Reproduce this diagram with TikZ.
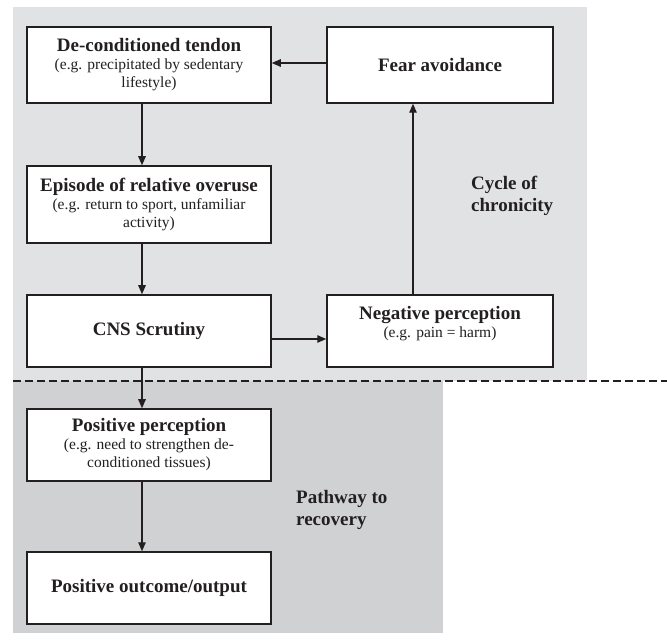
\documentclass[tikz,border=0pt]{standalone}
\usepackage{fontspec}
\setmainfont{Liberation Serif}
\usetikzlibrary{arrows.meta}
\definecolor{ink}{HTML}{231F20}
\definecolor{cyclebg}{HTML}{E1E2E4}
\definecolor{recoverybg}{HTML}{D0D1D3}
\newcommand\boxhead[1]{{\fontsize{19}{18}\selectfont\bfseries #1}}

\begin{document}
\begin{tikzpicture}[x=1pt,y=-1pt,
  box/.style={draw=ink, line width=1.5pt, fill=white, align=center,
    inner sep=0pt, text=ink, font=\fontsize{15.5}{18}\selectfont},
  arr/.style={draw=ink, line width=1.2pt, -{Triangle[length=9pt,width=7.5pt]}},
  zone/.style={font=\fontsize{19}{22}\selectfont\bfseries, text=ink,
    align=left, anchor=west, inner sep=0pt}]
  \useasboundingbox (0,0) rectangle (667,644);

  % shaded zones
  \fill[cyclebg] (13,7) rectangle (587,381);
  \fill[recoverybg] (13,381) rectangle (443,633);
  \draw[ink, line width=2pt, dash pattern=on 8pt off 4pt] (13,381) -- (667,381);

  % boxes of the cycle of chronicity
  \node[box, minimum width=244pt, minimum height=76pt] (dec) at (149,65)
    {\boxhead{De-conditioned tendon}\\(e.g. precipitated by sedentary\\lifestyle)};
  \node[box, minimum width=226pt, minimum height=76pt] (fear) at (440,65)
    {\boxhead{Fear avoidance}};
  \node[box, minimum width=244pt, minimum height=77pt] (epi) at (149,204.5)
    {\boxhead{Episode of relative overuse}\\(e.g. return to sport, unfamiliar\\activity)};
  \node[box, minimum width=244pt, minimum height=72pt] (cns) at (149,331)
    {\boxhead{CNS Scrutiny}};
  \node[box, minimum width=226pt, minimum height=72pt] (neg) at (440,331)
    {\boxhead{Negative perception}\\(e.g. pain = harm)\\\mbox{}};

  % boxes of the pathway to recovery
  \node[box, minimum width=244pt, minimum height=72pt] (posp) at (149,445)
    {\boxhead{Positive perception}\\(e.g. need to strengthen de-\\conditioned tissues)};
  \node[box, minimum width=244pt, minimum height=72pt] (poso) at (149,588)
    {\boxhead{Positive outcome/output}};

  % zone labels
  \node[zone] (cyc) at (471,196) {Cycle of\\chronicity};
  \node[zone] (rec) at (296,510) {Pathway to\\recovery};

  % connectors
  \draw[arr] ([yshift=2pt]fear.west) -- ([yshift=2pt]dec.east);
  \draw[arr] ([xshift=-7pt]dec.south) -- ([xshift=-7pt]epi.north);
  \draw[arr] ([xshift=-7pt]epi.south) -- ([xshift=-7pt]cns.north);
  \draw[arr] ([yshift=-8pt]cns.east) -- ([yshift=-8pt]neg.west);
  \draw[arr] ([xshift=-27pt]neg.north) -- ([xshift=-27pt]fear.south);
  \draw[arr] ([xshift=-7pt]cns.south) -- ([xshift=-7pt]posp.north);
  \draw[arr] ([xshift=-7pt]posp.south) -- ([xshift=-7pt]poso.north);
\end{tikzpicture}
\end{document}
